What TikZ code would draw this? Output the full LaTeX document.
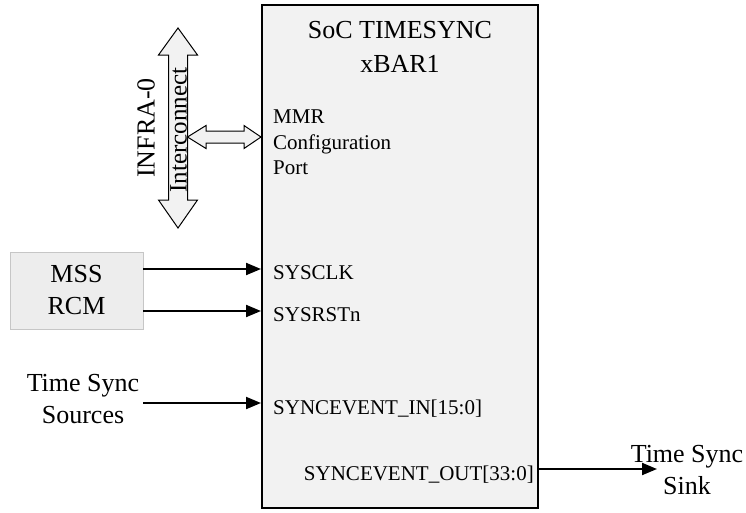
\documentclass[tikz,border=0pt]{standalone}
\usepackage{fontspec}
\setmainfont{Liberation Serif}
\usetikzlibrary{arrows.meta}
\definecolor{boxgray}{HTML}{F2F2F2}
\definecolor{rcmgray}{HTML}{EDEDED}

\begin{document}
\begin{tikzpicture}[x=1pt, y=-1pt,
    big/.style={font=\fontsize{26}{32}\selectfont, align=center, inner sep=0pt},
    portlbl/.style={font=\fontsize{21}{25.5}\selectfont, align=left, inner sep=0pt},
    sig/.style={line width=2pt, -{Triangle[length=15pt,width=12pt]}},
    busarrow/.style={draw, line width=1pt, fill=boxgray, line join=miter}]
    \useasboundingbox (0,0) rectangle (746,512);
    \node[draw, line width=2pt, fill=boxgray, minimum width=276, minimum height=503] (soc) at (400,256.5) {};
    \node[big, align=center] (title) at (400,47) {SoC TIMESYNC\\[2pt]xBAR1};
    \node[draw=gray!45, fill=rcmgray, minimum width=133, minimum height=77, big] (mss) at (76.5,290.5) {MSS\\RCM};
    \node[big] (src) at (83,399.5) {Time Sync\\Sources};
    \node[big] (sink) at (687,470) {Time Sync\\Sink};
    % ports
    \node[portlbl, anchor=north west] (mmr) at (273,110) {MMR\\Configuration\\Port};
    \node[portlbl, anchor=base west] (clk) at (273,279) {SYSCLK};
    \node[portlbl, anchor=base west] (rst) at (273,321) {SYSRSTn};
    \node[portlbl, anchor=base west] (evin) at (273,414) {SYNCEVENT\_IN[15:0]};
    \node[portlbl, anchor=base east] (evout) at (534,480) {SYNCEVENT\_OUT[33:0]};
    % interconnect
    \draw[busarrow] (178,28) -- (197.5,55) -- (187.5,55) -- (187.5,200) -- (197.5,200) -- (178,228)
        -- (158.5,200) -- (168.5,200) -- (168.5,55) -- (158.5,55) -- cycle;
    \draw[busarrow] (187.5,137) -- (206,125.5) -- (206,131) -- (244,131) -- (244,125.5) -- (soc.west |- 0,137)
        -- (244,148.5) -- (244,143) -- (206,143) -- (206,148.5) -- cycle;
    \node[rotate=90, font=\fontsize{26}{30}\selectfont, inner sep=0pt] (infra) at (146,128) {INFRA-0};
    \node[rotate=90, font=\fontsize{25}{30}\selectfont, inner sep=0pt] (icn) at (178.5,130) {Interconnect};
    % signals
    \draw[sig] (mss.east |- 0,269) -- (soc.west |- 0,269);
    \draw[sig] (mss.east |- 0,311) -- (soc.west |- 0,311);
    \draw[sig] ([xshift=4pt]src.east |- 0,403) -- (soc.west |- 0,403);
    \coordinate (sinkpt) at (657,469);
    \draw[sig] (soc.east |- sinkpt) -- (sinkpt);
\end{tikzpicture}
\end{document}
